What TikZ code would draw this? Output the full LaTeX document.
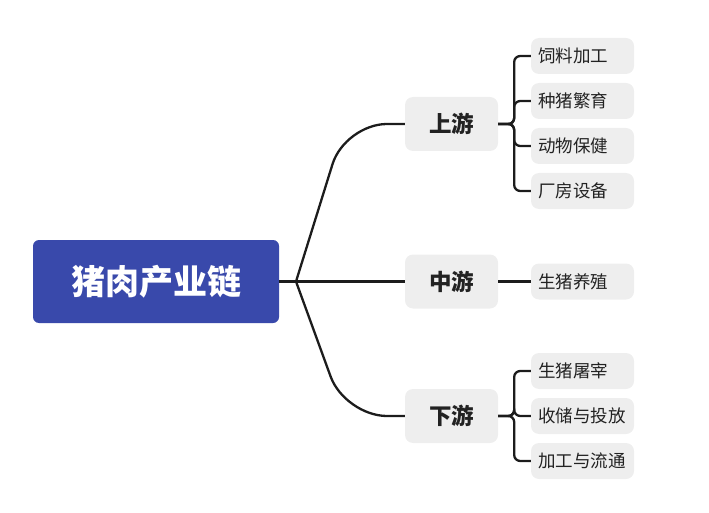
\documentclass[tikz,border=0pt]{standalone}
\usepackage{fontspec}
\newfontfamily\cjk{Noto Sans CJK SC}
\definecolor{rootblue}{RGB}{57,73,171}
\definecolor{boxgray}{RGB}{238,238,238}
\definecolor{linek}{RGB}{28,28,28}
\definecolor{txtk}{RGB}{34,34,34}
\begin{document}
\begin{tikzpicture}[x=1pt,y=-1pt,
  rootnode/.style={fill=rootblue, rounded corners=6pt, minimum width=246pt, minimum height=83pt, inner sep=0pt, text=white, font=\cjk\bfseries\fontsize{34}{34}\selectfont},
  midnode/.style={fill=boxgray, rounded corners=8pt, minimum width=93pt, minimum height=54pt, inner sep=0pt, text=txtk, font=\cjk\bfseries\fontsize{22.5}{22.5}\selectfont},
  leafnode/.style={fill=boxgray, rounded corners=8pt, text width=89pt, align=left, minimum height=36pt, inner xsep=7pt, inner ysep=0pt, text=txtk, font=\cjk\fontsize{17.5}{17.5}\selectfont},
  conn/.style={draw=linek, line width=2.3pt}]
\useasboundingbox (0,0) rectangle (709,513);
\node[rootnode] (root) at (156,281.5) {猪肉产业链};
\node[midnode] (up) at (451.5,124) {上游};
\node[midnode] (mid) at (451.5,281.5) {中游};
\node[midnode] (down) at (451.5,416) {下游};
\node[leafnode] (u1) at (582.5,56) {饲料加工};
\node[leafnode] (u2) at (582.5,101) {种猪繁育};
\node[leafnode] (u3) at (582.5,146) {动物保健};
\node[leafnode] (u4) at (582.5,191) {厂房设备};
\node[leafnode] (m1) at (582.5,281.5) {生猪养殖};
\node[leafnode] (d1) at (582.5,371) {生猪屠宰};
\node[leafnode] (d2) at (582.5,416) {收储与投放};
\node[leafnode] (d3) at (582.5,461) {加工与流通};
\coordinate (bp) at (296,281.5);
\draw[conn] (root.east) -- (bp);
\draw[conn, rounded corners=42pt] (bp) -- ++(49,-157.5) -- (up.west);
\draw[conn] (bp) -- (mid.west);
\draw[conn, rounded corners=42pt] (bp) -- ++(49,134.5) -- (down.west);
\foreach \c in {u1,u2,u3,u4}{\draw[conn, rounded corners=6pt] (up.east) -- ++(16,0) |- (\c.west);}
\draw[conn] (mid.east) -- (m1.west);
\foreach \c in {d1,d2,d3}{\draw[conn, rounded corners=6pt] (down.east) -- ++(16,0) |- (\c.west);}
\end{tikzpicture}
\end{document}
